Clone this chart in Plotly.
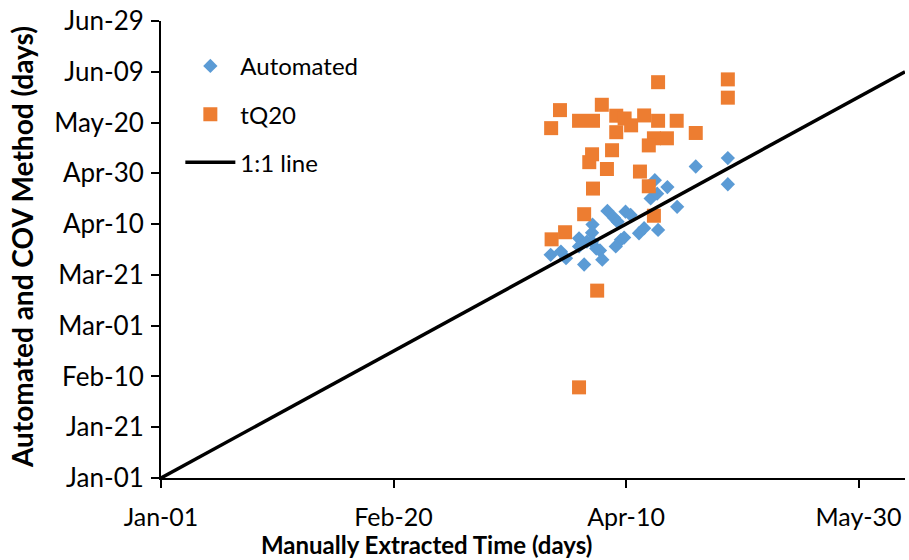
import plotly.graph_objects as go

# Day-of-year offsets from Jan-01 (leap-year calendar)
auto_manual = [83.8, 86.0, 87.1, 89.9, 89.9, 91.6, 91.0, 92.8, 92.7, 92.7, 93.6, 94.4,
               94.9, 96.0, 97.4, 98.2, 99.9, 101.0, 98.9, 97.8, 102.8, 103.9, 106.9,
               105.3, 106.7, 106.2, 108.9, 111.0, 115.0, 121.9, 121.9, 99.6]
auto_method = [87.9, 89.2, 86.6, 94.4, 91.2, 93.1, 84.1, 99.8, 96.6, 93.1, 90.4, 89.6,
               86.0, 105.2, 102.5, 100.9, 104.9, 103.6, 93.8, 91.2, 96.4, 98.4, 97.7,
               110.1, 112.0, 117.3, 114.6, 106.8, 122.7, 126.0, 115.7, 94.7]

tq20_manual = [83.9, 85.8, 89.9, 92.9, 94.8, 97.9, 99.7, 97.9, 101.1, 103.9, 106.9, 110.9,
               115.0, 106.0, 108.8, 104.9, 106.9, 121.9, 121.9, 92.1, 92.7, 95.9, 97.0,
               103.0, 104.9, 106.0, 92.9, 91.0, 86.9, 84.0, 93.8, 89.9]
tq20_method = [137.8, 144.9, 140.7, 140.7, 147.0, 142.7, 141.6, 136.2, 138.9, 142.8, 140.7,
               140.7, 135.9, 133.8, 133.8, 131.0, 155.9, 157.0, 149.8, 124.4, 127.5, 121.7,
               129.1, 120.7, 114.9, 103.3, 114.0, 103.9, 96.8, 94.0, 73.8, 35.7]

one_to_one = [0, 160]

x_tick_vals = [0, 50, 100, 150]
x_tick_text = ["Jan-01", "Feb-20", "Apr-10", "May-30"]
y_tick_vals = [0, 20, 40, 60, 80, 100, 120, 140, 160, 180]
y_tick_text = ["Jan-01", "Jan-21", "Feb-10", "Mar-01", "Mar-21",
               "Apr-10", "Apr-30", "May-20", "Jun-09", "Jun-29"]

FONT = "Lato"
BLUE = "#5B9BD5"
ORANGE = "#ED7D31"

fig = go.Figure()
fig.add_trace(go.Scatter(
    x=auto_manual, y=auto_method, mode="markers", name="Automated",
    legendgroup="a",
    marker=dict(symbol="diamond", size=11, color=BLUE, line=dict(width=0)),
))
fig.add_trace(go.Scatter(
    x=tq20_manual, y=tq20_method, mode="markers", name="tQ20",
    legendgroup="b",
    marker=dict(symbol="square", size=14, color=ORANGE, line=dict(width=0)),
))
fig.add_trace(go.Scatter(
    x=one_to_one, y=one_to_one, mode="lines", name="1:1 line",
    legendgroup="c",
    line=dict(color="black", width=3.5),
))

axis_common = dict(
    showgrid=False, zeroline=False, showline=True, linecolor="black", linewidth=2,
    ticks="outside", ticklen=8, tickwidth=1.5, tickcolor="black",
)

fig.update_layout(
    width=909, height=560,
    margin=dict(l=161, r=4, t=18, b=82),
    paper_bgcolor="white", plot_bgcolor="white",
    xaxis=dict(range=[0, 160], tickvals=x_tick_vals, ticktext=x_tick_text,
               ticklabelstandoff=8, tickfont=dict(family=FONT, size=25, color="black"),
               **axis_common),
    yaxis=dict(range=[0, 180], tickvals=y_tick_vals, ticktext=y_tick_text,
               ticklabelstandoff=2, tickfont=dict(family=FONT, size=26, color="black"),
               **axis_common),
    showlegend=True,
    legend=dict(
        x=0.026, y=0.95, xanchor="left", yanchor="top",
        font=dict(family=FONT, size=24, color="black"),
        bgcolor="rgba(0,0,0,0)", tracegroupgap=14, itemwidth=50,
        traceorder="grouped",
    ),
    annotations=[
        dict(text="<b>Manually Extracted Time (days)</b>", xref="paper", yref="paper",
             x=0.3575, y=-0.146, xanchor="center", yanchor="middle", showarrow=False,
             font=dict(family=FONT, size=24, color="black")),
        dict(text="<b>Automated and COV Method (days)</b>", xref="paper", yref="paper",
             x=-0.187, y=0.505, xanchor="center", yanchor="middle", showarrow=False,
             textangle=-90, font=dict(family=FONT, size=28, color="black")),
    ],
)

fig.write_html("out.html")
